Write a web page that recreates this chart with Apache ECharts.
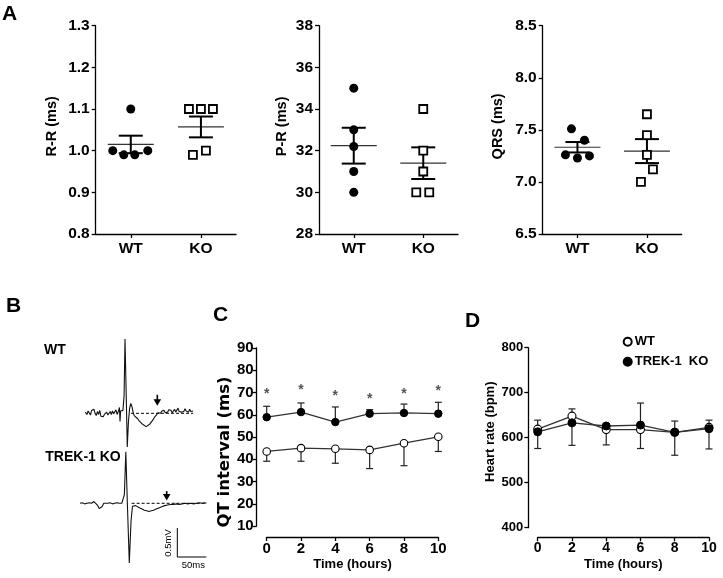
<!DOCTYPE html>
<html><head><meta charset="utf-8">
<script src="https://cdn.jsdelivr.net/npm/echarts@6/dist/echarts.min.js"></script>
<style>html,body{margin:0;padding:0;background:#fff}#c{width:723px;height:578px}</style>
</head><body><div id="c"></div>
<script>
// ---------------- data ----------------
const groups = ['WT', 'KO'];
const rrWT = [1.10, 1.00, 0.99, 0.99, 1.00];
const rrKO = [1.10, 1.10, 1.10, 0.99, 1.00];
const rrMean = [1.015, 1.057];
const rrSem = [0.021, 0.025];
const prWT = [35, 33, 32.2, 31, 30];
const prKO = [34, 32, 31, 30, 30];
const prMean = [32.24, 31.4];
const prSem = [0.86, 0.76];
const qrsWT = [7.51, 7.40, 7.26, 7.23, 7.25];
const qrsKO = [7.65, 7.45, 7.26, 7.12, 7.00];
const qrsMean = [7.333, 7.296];
const qrsSem = [0.05, 0.115];

const hours = [0, 2, 4, 6, 8, 10];
const qtWT = [43.5, 45.0, 44.7, 44.2, 47.2, 50.1];
const qtWTlow = [39.1, 39.1, 38.2, 35.8, 37.1, 43.5];
const qtKO = [58.9, 61.2, 56.7, 60.5, 60.8, 60.5];
const qtKOhigh = [63.8, 65.3, 63.5, 62.3, 64.8, 65.6];
const qtStar = [69.2, 71.0, 68.3, 66.8, 69.2, 70.5];

const hrWT = [619, 648, 618, 618, 612, 623];
const hrKO = [613, 633, 626, 628, 612, 620];
const hrHigh = [639, 664, 629, 677, 637, 639];
const hrLow = [576, 583, 584, 576, 561, 575];

// ECG traces (time in ms, amplitude in mV)
const ecgWtTime = [9,12,14,16,18,20,22,24,26,28,30,32,34,36,38,40,42,44,46,48,50,52,54,56,58,60,62,64,66,68,69,70,72,74,76,77.6,79.5,81.5,83.5,85.5,87.5,89.5,91.5,93.5,96,99,102,105,108,111,114,117,120,123,126,129,132,135,137,139,141,143,145,147,149,151,153,155,157,159,161,163,165,167,169,171,173,175,177,179,181,183,185,187,189,191,193,195];
const ecgWtMv = [0.02,-0.02,0.04,0.01,-0.03,0.05,0.03,0.07,0.00,-0.04,0.03,-0.02,0.05,-0.05,-0.03,-0.06,-0.02,-0.05,0.02,-0.03,-0.04,0.03,-0.02,0.04,-0.01,0.02,0.06,-0.02,0.03,0.10,-0.14,0.04,0.02,0.05,0.30,1.28,0.40,-0.58,-0.15,0.08,0.17,0.12,0.02,-0.04,-0.07,-0.09,-0.13,-0.16,-0.19,-0.21,-0.23,-0.22,-0.19,-0.16,-0.11,-0.06,-0.03,0.01,0.03,0.00,0.04,0.02,0.05,0.01,0.04,0.02,0.06,0.03,0.05,0.01,0.04,0.07,0.02,0.05,0.09,0.03,0.06,0.02,0.05,0.03,0.08,0.04,0.06,0.02,0.07,0.03,0.05,0.04];
const ecgKoTime = [0,4,8,12,16,20,24,27,30,33,35.5,38,41,44,48,52,56,60,64,68,72,74.5,76.5,79,81.5,85,88,90.5,93,96,99,103,107,111,115,119,123,127,131,136,141,146,151,156,161,166,171,176,181,186,191,196,201,206,211,215,218];
const ecgKoMv = [0.00,0.01,-0.01,0.00,0.01,0.00,0.03,0.02,-0.03,-0.09,-0.12,-0.06,0.00,0.01,0.00,0.01,-0.01,0.00,0.01,0.00,0.00,0.00,0.15,0.89,0.05,-1.03,-0.30,-0.05,-0.06,-0.04,-0.06,-0.08,-0.10,-0.12,-0.13,-0.14,-0.13,-0.12,-0.10,-0.08,-0.06,-0.04,-0.03,-0.02,-0.02,-0.01,-0.02,-0.01,0.00,-0.01,0.00,-0.01,0.00,0.01,0.00,0.01,0.00];
const wtBaseline = [[88, 0], [195, 0]];
const koBaseline = [[89, 0], [218, 0]];
const wtArrow = [133.3, 0.32, 0.13];
const koArrow = [149.5, 0.21, 0.05];
const scaleBarMs = 50, scaleBarMv = 0.5;
const scaleBarOrigin = [167.8, -0.926];

// ---------------- styling ----------------
const FF = '"Liberation Sans", Arial, Helvetica, sans-serif';
const jitter = {
  rrWT: [0, -18, -7, 4, 17], rrKO: [-12, 0, 12, -8, 5],
  prWT: [0, 0, 0, 0, 0], prKO: [0, 0, 0, -7, 6],
  qrsWT: [-6, 7, -12, 0, 12], qrsKO: [0, 0, 0, 6, -6]
};
const axLine = { show: true, onZero: false, lineStyle: { color: '#000', width: 1.3 } };
const axTick = { show: true, length: 4, lineStyle: { color: '#000', width: 1.3 } };

function catX(grid) {
  return { type: 'category', gridIndex: grid, data: groups, boundaryGap: true,
    axisLine: axLine, axisTick: Object.assign({ alignWithLabel: true }, axTick),
    axisLabel: { fontFamily: FF, fontWeight: 'bold', fontSize: 15.5, color: '#000', margin: 7 },
    splitLine: { show: false } };
}
function valY(grid, min, max, interval, name, gap, dec) {
  return { type: 'value', gridIndex: grid, min, max, interval,
    axisLine: axLine, axisTick: axTick, splitLine: { show: false },
    axisLabel: { fontFamily: FF, fontWeight: 'bold', fontSize: 15.5, color: '#000', margin: 6,
      formatter: v => v.toFixed(dec) },
    name, nameLocation: 'middle', nameGap: gap, nameRotate: 90,
    nameTextStyle: { fontFamily: FF, fontWeight: 'bold', fontSize: 14.5, color: '#000', padding: [0, 0, 0, 7] } };
}
function dots(grid, vals, jit, ci, filled) {
  return { type: 'scatter', xAxisIndex: grid, yAxisIndex: grid, z: 3,
    symbol: filled ? 'circle' : 'rect', symbolSize: filled ? 9 : 8,
    itemStyle: filled ? { color: '#000', opacity: 1 } : { color: '#fff', borderColor: '#000', borderWidth: 1.8, opacity: 1 },
    data: vals.map((v, i) => ({ value: [ci, v], symbolOffset: [jit[i], 0] })) };
}
function meanSem(grid, means, sems) {
  return { type: 'custom', xAxisIndex: grid, yAxisIndex: grid, z: 2,
    data: means.map((m, i) => [i, m, sems[i]]),
    renderItem: (p, api) => {
      const x = api.value(0), m = api.value(1), s = api.value(2);
      const pm = api.coord([x, m]), ph = api.coord([x, m + s]), pl = api.coord([x, m - s]);
      const cx = pm[0];
      return { type: 'group', children: [
        { type: 'line', shape: { x1: cx - 23, y1: pm[1], x2: cx + 23, y2: pm[1] }, style: { stroke: '#333', lineWidth: 1.2 } },
        { type: 'line', shape: { x1: cx, y1: ph[1], x2: cx, y2: pl[1] }, style: { stroke: '#000', lineWidth: 2 } },
        { type: 'line', shape: { x1: cx - 12, y1: ph[1], x2: cx + 12, y2: ph[1] }, style: { stroke: '#000', lineWidth: 2 } },
        { type: 'line', shape: { x1: cx - 12, y1: pl[1], x2: cx + 12, y2: pl[1] }, style: { stroke: '#000', lineWidth: 2 } }
      ] };
    } };
}
function timeX(grid, off, lblSize) {
  return { type: 'value', gridIndex: grid, min: 0, max: 10, interval: 2, offset: off,
    axisLine: axLine, axisTick: axTick, splitLine: { show: false },
    axisLabel: { fontFamily: FF, fontWeight: 'bold', fontSize: lblSize, color: '#000', margin: 4 },
    name: 'Time (hours)', nameLocation: 'middle', nameGap: 21,
    nameTextStyle: { fontFamily: FF, fontWeight: 'bold', fontSize: 13, color: '#000' } };
}
function hidden(grid, min, max) {
  return { type: 'value', gridIndex: grid, min, max, show: false, splitLine: { show: false } };
}
function errBar(grid, xs, from, to, both) {
  return { type: 'custom', xAxisIndex: grid, yAxisIndex: grid, z: 1,
    data: xs.map((x, i) => [x, from[i], to[i]]),
    renderItem: (p, api) => {
      const a = api.coord([api.value(0), api.value(1)]), b = api.coord([api.value(0), api.value(2)]);
      const ch = [
        { type: 'line', shape: { x1: a[0], y1: a[1], x2: b[0], y2: b[1] }, style: { stroke: '#222', lineWidth: 1.2 } },
        { type: 'line', shape: { x1: b[0] - 3.5, y1: b[1], x2: b[0] + 3.5, y2: b[1] }, style: { stroke: '#222', lineWidth: 1.2 } }
      ];
      if (both) ch.push({ type: 'line', shape: { x1: a[0] - 3.5, y1: a[1], x2: a[0] + 3.5, y2: a[1] }, style: { stroke: '#222', lineWidth: 1.2 } });
      return { type: 'group', children: ch };
    } };
}
function arrow(grid, a) {
  return { type: 'custom', xAxisIndex: grid, yAxisIndex: grid, z: 4, data: [a],
    renderItem: (p, api) => {
      const t = api.coord([api.value(0), api.value(1)]), b = api.coord([api.value(0), api.value(2)]);
      return { type: 'group', children: [
        { type: 'line', shape: { x1: t[0], y1: t[1], x2: b[0], y2: b[1] - 5 }, style: { stroke: '#000', lineWidth: 1.6 } },
        { type: 'polygon', shape: { points: [[b[0] - 3.8, b[1] - 6.5], [b[0] + 3.8, b[1] - 6.5], [b[0], b[1]]] }, style: { fill: '#000' } }
      ] };
    } };
}
const pair = (ts, vs) => ts.map((t, i) => [t, vs[i]]);
const zip = (xs, ys) => xs.map((x, i) => [x, ys[i]]);

const traceStyle = { color: '#111', width: 1.1 };
const dashStyle = { color: '#000', width: 1, type: [3, 2] };

const option = {
  animation: false,
  backgroundColor: '#fff',
  grid: [
    { left: 95.7, top: 25.7, width: 140.3, height: 208.3 },
    { left: 319, top: 25.7, width: 139, height: 208.3 },
    { left: 542.7, top: 25.7, width: 139, height: 208.3 },
    { left: 80, top: 329.2, width: 127.6, height: 130.5 },
    { left: 80, top: 445.3, width: 127.6, height: 127.6 },
    { left: 266.7, top: 348, width: 171.6, height: 178 },
    { left: 537.7, top: 347.7, width: 171.3, height: 180 }
  ],
  xAxis: [
    catX(0), catX(1), catX(2),
    hidden(3, 0, 220), hidden(4, 0, 220),
    timeX(5, 11, 15), timeX(6, 9.6, 14)
  ],
  yAxis: [
    valY(0, 0.8, 1.3, 0.1, 'R-R (ms)', 36, 1),
    valY(1, 28, 38, 2, 'P-R (ms)', 30, 0),
    valY(2, 6.5, 8.5, 0.5, 'QRS (ms)', 37.5, 1),
    hidden(3, -0.8, 1.45), hidden(4, -1.2, 1.0),
    { type: 'value', gridIndex: 5, min: 10, max: 90, interval: 10, offset: 10,
      axisLine: axLine, axisTick: axTick, splitLine: { show: false },
      axisLabel: { fontFamily: FF, fontWeight: 'bold', fontSize: 15, color: '#000', margin: 3 },
      name: 'QT interval (ms)', nameLocation: 'middle', nameGap: 23, nameRotate: 90,
      nameTextStyle: { fontFamily: '"DejaVu Sans", sans-serif', fontWeight: 'bold', fontSize: 16.5, color: '#000', padding: [0, 30, 0, 0] } },
    { type: 'value', gridIndex: 6, min: 400, max: 800, interval: 100, offset: 9.4,
      axisLine: axLine, axisTick: axTick, splitLine: { show: false },
      axisLabel: { fontFamily: FF, fontWeight: 'bold', fontSize: 13, color: '#000', margin: 5 },
      name: 'Heart rate (bpm)', nameLocation: 'middle', nameGap: 31, nameRotate: 90,
      nameTextStyle: { fontFamily: FF, fontWeight: 'bold', fontSize: 13, color: '#000', padding: [0, 0, 0, 12] } }
  ],
  legend: {
    data: ['WT', 'TREK-1  KO'], orient: 'vertical', left: 622.7, top: 335.2,
    itemWidth: 8, itemHeight: 8, itemGap: 7, icon: 'circle', selectedMode: false, padding: 0,
    textStyle: { fontFamily: FF, fontWeight: 'bold', fontSize: 13, color: '#000', padding: [0, 0, 0, -2] }
  },
  series: [
    meanSem(0, rrMean, rrSem), dots(0, rrWT, jitter.rrWT, 0, true), dots(0, rrKO, jitter.rrKO, 1, false),
    meanSem(1, prMean, prSem), dots(1, prWT, jitter.prWT, 0, true), dots(1, prKO, jitter.prKO, 1, false),
    meanSem(2, qrsMean, qrsSem), dots(2, qrsWT, jitter.qrsWT, 0, true), dots(2, qrsKO, jitter.qrsKO, 1, false),
    // B: ECG traces
    { type: 'line', xAxisIndex: 3, yAxisIndex: 3, data: wtBaseline, symbol: 'none', lineStyle: dashStyle, z: 1 },
    { type: 'line', xAxisIndex: 3, yAxisIndex: 3, data: pair(ecgWtTime, ecgWtMv), symbol: 'none', lineStyle: traceStyle, z: 2 },
    arrow(3, wtArrow),
    { type: 'line', xAxisIndex: 4, yAxisIndex: 4, data: koBaseline, symbol: 'none', lineStyle: dashStyle, z: 1 },
    { type: 'line', xAxisIndex: 4, yAxisIndex: 4, data: pair(ecgKoTime, ecgKoMv), symbol: 'none', lineStyle: traceStyle, z: 2 },
    arrow(4, koArrow),
    { type: 'line', xAxisIndex: 4, yAxisIndex: 4, symbol: 'none', lineStyle: { color: '#000', width: 1 },
      data: [[scaleBarOrigin[0], scaleBarOrigin[1] + scaleBarMv], scaleBarOrigin, [scaleBarOrigin[0] + scaleBarMs, scaleBarOrigin[1]]] },
    // C: QT interval
    errBar(5, hours, qtKO, qtKOhigh, false),
    errBar(5, hours, qtWT, qtWTlow, false),
    { name: 'QT WT', type: 'line', xAxisIndex: 5, yAxisIndex: 5, data: zip(hours, qtWT), z: 3,
      symbol: 'circle', symbolSize: 7.5, lineStyle: { color: '#333', width: 1.3 },
      itemStyle: { color: '#fff', borderColor: '#000', borderWidth: 1.1 } },
    { name: 'QT KO', type: 'line', xAxisIndex: 5, yAxisIndex: 5, data: zip(hours, qtKO), z: 3,
      symbol: 'circle', symbolSize: 7.5, lineStyle: { color: '#333', width: 1.3 },
      itemStyle: { color: '#000', borderColor: '#000', borderWidth: 1 } },
    { type: 'custom', xAxisIndex: 5, yAxisIndex: 5, z: 4, data: zip(hours, qtStar),
      renderItem: (p, api) => {
        const c = api.coord([api.value(0), api.value(1)]);
        return { type: 'text', style: { text: '*', x: c[0], y: c[1], align: 'center', verticalAlign: 'middle',
          font: 'bold 14px ' + FF, fill: '#555' } };
      } },
    // D: heart rate
    errBar(6, hours, hrLow, hrHigh, true),
    { name: 'WT', type: 'line', xAxisIndex: 6, yAxisIndex: 6, data: zip(hours, hrWT), z: 3,
      symbol: 'circle', symbolSize: 8, lineStyle: { color: '#333', width: 1.3 },
      itemStyle: { color: '#fff', borderColor: '#000', borderWidth: 1.1 } },
    { name: 'TREK-1  KO', type: 'line', xAxisIndex: 6, yAxisIndex: 6, data: zip(hours, hrKO), z: 3,
      symbol: 'circle', symbolSize: 8, lineStyle: { color: '#333', width: 1.3 },
      itemStyle: { color: '#000', borderColor: '#000', borderWidth: 1 } }
  ],
  graphic: [
    { type: 'text', left: 2, top: 4, style: { text: 'A', font: 'bold 21px ' + FF, fill: '#000' } },
    { type: 'text', left: 6, top: 296, style: { text: 'B', font: 'bold 21px ' + FF, fill: '#000' } },
    { type: 'text', left: 213, top: 305, style: { text: 'C', font: 'bold 21px ' + FF, fill: '#000' } },
    { type: 'text', left: 465, top: 311, style: { text: 'D', font: 'bold 21px ' + FF, fill: '#000' } },
    { type: 'text', x: 55, y: 350, style: { text: 'WT', font: 'bold 14px ' + FF, fill: '#000', align: 'center', verticalAlign: 'middle' } },
    { type: 'text', x: 83, y: 457, style: { text: 'TREK-1 KO', font: 'bold 14px ' + FF, fill: '#000', align: 'center', verticalAlign: 'middle' } },
    { type: 'text', x: 168.5, y: 543, rotation: Math.PI / 2, style: { text: '0.5mV', font: '9.5px ' + FF, fill: '#000', align: 'center', verticalAlign: 'middle' } },
    { type: 'text', x: 193.3, y: 565, style: { text: '50ms', font: '9.5px ' + FF, fill: '#000', align: 'center', verticalAlign: 'middle' } }
  ]
};
const chart = echarts.init(document.getElementById('c'), null, { renderer: 'canvas' });
chart.setOption(option);
</script>
</body></html>
